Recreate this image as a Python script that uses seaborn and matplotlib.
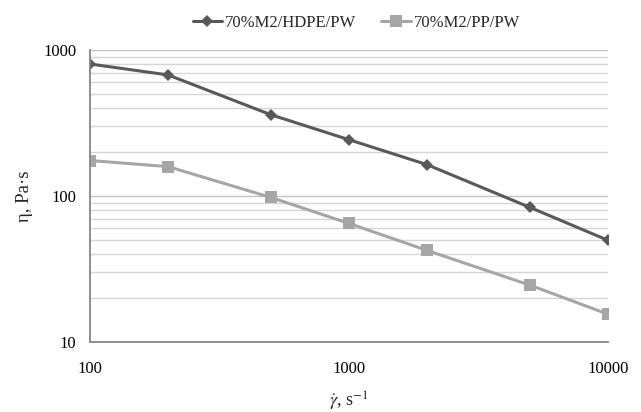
import matplotlib
matplotlib.use("Agg")
import matplotlib.pyplot as plt
import seaborn as sns
import pandas as pd
from matplotlib.ticker import FixedLocator, NullFormatter, FixedFormatter, LogLocator

shear_rate = [100, 200, 500, 1000, 2000, 5000, 10000]
hdpe = [802, 675, 360, 243, 164, 83.5, 49.7]
pp = [175, 159, 97.7, 64.9, 42.4, 24.5, 15.5]
series_names = ["70%M2/HDPE/PW", "70%M2/PP/PW"]

df = pd.DataFrame({
    "x": shear_rate * 2,
    "y": hdpe + pp,
    "series": [series_names[0]] * len(hdpe) + [series_names[1]] * len(pp),
})

sns.set_theme(style="white")
plt.rcParams["font.family"] = ["Liberation Serif", "DejaVu Serif"]
plt.rcParams["mathtext.fontset"] = "stix"

fig = plt.figure(figsize=(6.41, 4.12), dpi=100)
fig.patch.set_facecolor("white")
ax = fig.add_axes([90 / 641, 1 - 342 / 412, (608 - 90) / 641, (342 - 50) / 412])

palette = {series_names[0]: "#595959", series_names[1]: "#A6A6A6"}
markers = {series_names[0]: "D", series_names[1]: "s"}
sns.lineplot(data=df, x="x", y="y", hue="series", style="series",
             palette=palette, markers=markers, dashes=False,
             markersize=7, linewidth=2.2, markeredgewidth=0, ax=ax, legend=True)
for ln in ax.lines:
    if ln.get_marker() == "D":
        ln.set_markersize(6.5)
    elif ln.get_marker() == "s":
        ln.set_markersize(8)

ax.set_xscale("log")
ax.set_yscale("log")
ax.set_xlim(100, 10000)
ax.set_ylim(10, 1000)

ax.yaxis.set_major_locator(FixedLocator([10, 100, 1000]))
ax.yaxis.set_major_formatter(FixedFormatter(["10", "100", "1000"]))
ax.yaxis.set_minor_locator(LogLocator(base=10, subs=range(2, 10)))
ax.yaxis.set_minor_formatter(NullFormatter())
ax.xaxis.set_major_locator(FixedLocator([100, 1000, 10000]))
ax.xaxis.set_major_formatter(FixedFormatter(["100", "1000", "10000"]))
ax.xaxis.set_minor_locator(FixedLocator([]))

ax.grid(True, which="major", axis="y", color="#C4C4C4", linewidth=1.0)
ax.grid(True, which="minor", axis="y", color="#D6D6D6", linewidth=1.0)
ax.set_axisbelow(True)

for s in ["top", "right"]:
    ax.spines[s].set_visible(False)
for s in ["left", "bottom"]:
    ax.spines[s].set_color("#868686")
    ax.spines[s].set_linewidth(1.3)

ax.tick_params(axis="both", which="both", length=0, labelsize=12, colors="black")
ax.tick_params(axis="x", pad=14)
ax.tick_params(axis="y", pad=10)
ax.set_xlabel(r"$\dot{\gamma}$, s$^{-1}$", fontsize=13, labelpad=9)
ax.set_ylabel("η, Pa·s", fontsize=13.5, labelpad=7)

handles, labels = ax.get_legend_handles_labels()
ax.get_legend().remove()
for h in handles:
    if h.get_marker() == "D":
        h.set_markersize(6.5)
    elif h.get_marker() == "s":
        h.set_markersize(8)
fig.legend(handles, labels, loc="center", bbox_to_anchor=(356.5 / 641, 1 - 23 / 412),
           ncol=2, frameon=False, fontsize=12, handlelength=1.75, handletextpad=0.2,
           columnspacing=1.5, borderpad=0, borderaxespad=0)

fig.savefig("out.png", dpi=100, facecolor="white")
